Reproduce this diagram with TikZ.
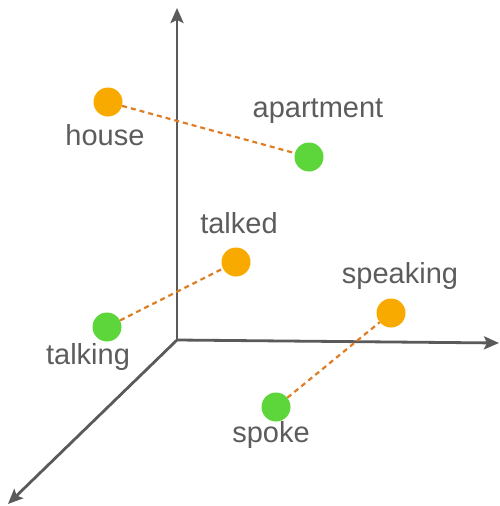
\documentclass[tikz,border=0pt]{standalone}
\usepackage{fontspec}
\setmainfont{Liberation Sans}
\usetikzlibrary{arrows.meta}
\definecolor{axisgray}{HTML}{5A5A5A}
\definecolor{txtgray}{HTML}{5C5C5C}
\definecolor{dotorange}{HTML}{F9AA00}
\definecolor{dotgreen}{HTML}{5CD63A}
\definecolor{linkorange}{HTML}{E07C22}
\tikzset{
  axis/.style={draw=axisgray, line width=2.8pt, -{Stealth[length=15pt, width=13pt, inset=3pt]}},
  odot/.style={circle, fill=dotorange, minimum size=29pt, inner sep=0pt},
  gdot/.style={circle, fill=dotgreen, minimum size=29pt, inner sep=0pt},
  lbl/.style={text=txtgray, font=\fontsize{29}{33}\selectfont, inner sep=0pt},
  link/.style={draw=linkorange, line width=2.2pt, dash pattern=on 5pt off 4pt}
}
\begin{document}
\begin{tikzpicture}[x=1pt, y=-1pt]
\useasboundingbox (0,0) rectangle (499,506);
\coordinate (O) at (177,340);
\coordinate (up) at (177,8);
\coordinate (right) at (499,343);
\coordinate (down) at (8,504);
\draw[axis] (O) -- (up);
\draw[axis] (O) -- (right);
\draw[axis] (O) -- (down);
\node[odot] (house) at (108,102) {};
\node[gdot] (apartment) at (309,157) {};
\node[odot] (talked) at (236,262) {};
\node[gdot] (talking) at (107,327) {};
\node[odot] (speaking) at (391,313) {};
\node[gdot] (spoke) at (276,407) {};
\draw[link] (house) -- (apartment);
\draw[link] (talking) -- (talked);
\draw[link] (spoke) -- (speaking);
\node[lbl] (lhouse) at (105,135) {house};
\node[lbl] (lapartment) at (318,111) {apartment};
\node[lbl] (ltalked) at (239,223) {talked};
\node[lbl] (ltalking) at (88,357) {talking};
\node[lbl] (lspeaking) at (400,276) {speaking};
\node[lbl] (lspoke) at (271,435) {spoke};
\end{tikzpicture}
\end{document}
